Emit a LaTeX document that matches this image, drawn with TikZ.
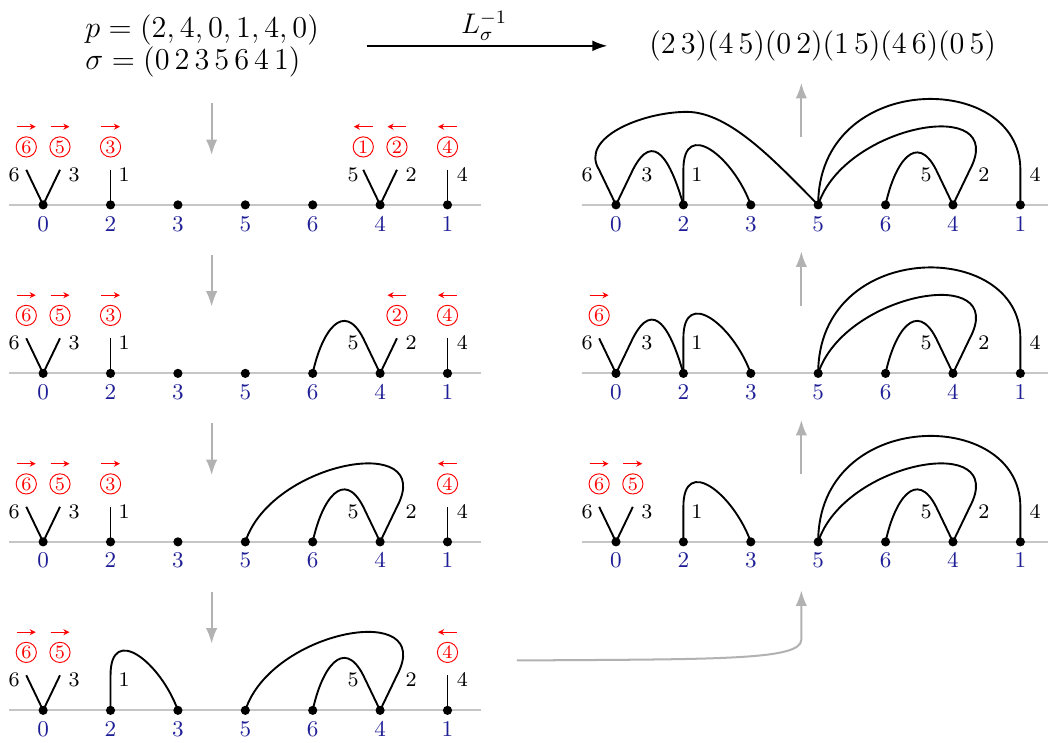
\RequirePackage{fix-cm}
\documentclass[tikz,border=0pt]{standalone}
\usepackage{amsmath}
\usetikzlibrary{arrows.meta}

\definecolor{vblue}{RGB}{30,30,150}

\tikzset{
	axisline/.style={gray!45, line width=0.8pt},
	strand/.style={line width=0.8pt, line join=round},
	vlab/.style={text=vblue, font=\fontsize{9.5}{11}\selectfont, inner sep=0pt},
	hlab/.style={font=\fontsize{8.75}{10}\selectfont, inner sep=0pt},
	circnum/.style={circle, draw=red, text=red, line width=0.4pt, inner sep=0pt, minimum size=0.3cm, font=\fontsize{8}{9}\selectfont},
	dirarrow/.style={red, line width=0.45pt, -{Stealth[length=0.9mm,width=0.9mm]}},
	flow/.style={gray!60, line width=0.85pt, -{Latex[length=2.3mm,width=1.7mm]}},
	toptext/.style={inner sep=0pt, font=\fontsize{12.8}{13.4}\selectfont},
}

\begin{document}
\begin{tikzpicture}
	\useasboundingbox (-0.64,-7.98) rectangle (14.91,3.04);
	% the seven rows of points
	\foreach \p/\x/\y in {L0/0/0, L1/0/-2.5, L2/0/-5, L3/0/-7.5, R0/8.5/0, R1/8.5/-2.5, R2/8.5/-5} {
		\begin{scope}[shift={(\x,\y)}]
			\draw[axisline] (-0.5,0) -- (6.5,0);
			\foreach \vx [count=\k from 0] in {0,2,3,5,6,4,1} {
				\coordinate (\p-\vx) at (\k,0);
				\fill (\p-\vx) circle (0.068);
				\node[vlab] (\p-n\vx) at (\k,-0.28) {$\vx$};
			}
			\coordinate (\p-0l) at (-0.25,0.52);
			\coordinate (\p-0r) at (0.25,0.52);
			\coordinate (\p-2t) at (1,0.52);
			\coordinate (\p-4l) at (4.75,0.52);
			\coordinate (\p-4r) at (5.25,0.52);
			\coordinate (\p-1t) at (6,0.52);
			\foreach \lx/\lt in {-0.43/6, 0.46/3, 1.2/1, 4.6/5, 5.46/2, 6.22/4}
				\node[hlab] (\p-h\lt) at (\lx,0.45) {$\lt$};
		\end{scope}
	}
	% free half edges with their marks
	\foreach \p/\e/\v/\cn/\dir in {
		L0/0l/0/6/1, L0/0r/0/5/1, L0/2t/2/3/1, L0/4l/4/1/-1, L0/4r/4/2/-1, L0/1t/1/4/-1,
		L1/0l/0/6/1, L1/0r/0/5/1, L1/2t/2/3/1, L1/4r/4/2/-1, L1/1t/1/4/-1,
		L2/0l/0/6/1, L2/0r/0/5/1, L2/2t/2/3/1, L2/1t/1/4/-1,
		L3/0l/0/6/1, L3/0r/0/5/1, L3/1t/1/4/-1,
		R2/0l/0/6/1, R2/0r/0/5/1,
		R1/0l/0/6/1} {
		\draw[strand] (\p-\e) -- (\p-\v);
		\node[circnum] (\p-c\cn) at ([yshift=0.34cm]\p-\e) {\cn};
		\draw[dirarrow] ([shift={(-0.14*\dir,0.3)}]\p-c\cn.center) -- ([shift={(0.14*\dir,0.3)}]\p-c\cn.center);
	}
	% joined half edges
	\foreach \p in {L1,L2,L3,R2,R1,R0}
		\draw[strand] (\p-6) to[out=78, in=117, looseness=1.8] (\p-4l) -- (\p-4);
	\foreach \p in {L2,L3,R2,R1,R0}
		\draw[strand] (\p-5) to[out=72, in=62, looseness=1.4] (\p-4r) -- (\p-4);
	\foreach \p in {L3,R2,R1,R0}
		\draw[strand] (\p-2) -- (\p-2t) to[out=90, in=110, looseness=1.75] (\p-3);
	\foreach \p in {R2,R1,R0}
		\draw[strand] (\p-5) .. controls +(0,2.0) and +(0,1.48) .. (\p-1t) -- (\p-1);
	\foreach \p in {R1,R0}
		\draw[strand] (\p-0) -- (\p-0r) to[out=63, in=106, looseness=1.9] (\p-2);
	\coordinate (R0-top) at (9.55,1.38);
	\draw[strand] (R0-0) -- (R0-0l) .. controls +(-0.3,0.48) and +(-0.65,0) .. (R0-top)
		.. controls +(0.65,0) and +(-0.6,0.6) .. (R0-5);
	% top line
	\node[toptext, anchor=west, align=left] (perm) at (0.62,2.36) {$p=(2,4,0,1,4,0)$\\$\sigma=(0\,2\,3\,5\,6\,4\,1)$};
	\node[toptext] (cyc) at (11.57,2.36) {$(2\,3)(4\,5)(0\,2)(1\,5)(4\,6)(0\,5)$};
	\draw[line width=0.6pt, -{Latex[length=2.2mm,width=1.6mm]}, shorten <=0.7cm, shorten >=0.62cm] (perm) -- node[above=2pt, inner sep=0pt, font=\fontsize{12}{14}\selectfont] {$L_\sigma^{-1}$} (cyc);
	% grey steps
	\foreach \r/\ya/\yb in {0/1.51/0.74, 1/-0.74/-1.51, 2/-3.24/-4.01, 3/-5.74/-6.51} {
		\coordinate (dn\r-a) at (2.5,\ya);
		\coordinate (dn\r-b) at (2.5,\yb);
		\draw[flow] (dn\r-a) -- (dn\r-b);
	}
	\foreach \r in {0,1,2} {
		\coordinate (up\r-a) at (11.25,1.0-2.5*\r);
		\coordinate (up\r-b) at (11.25,1.81-2.5*\r);
		\draw[flow] (up\r-a) -- (up\r-b);
	}
	\coordinate (up3-a) at (7.03,-6.76);
	\coordinate (up3-b) at (11.25,-5.72);
	\draw[flow] (up3-a) .. controls (10,-6.74) and (11.25,-6.76) .. (11.25,-6.45) -- (up3-b);
\end{tikzpicture}
\end{document}
